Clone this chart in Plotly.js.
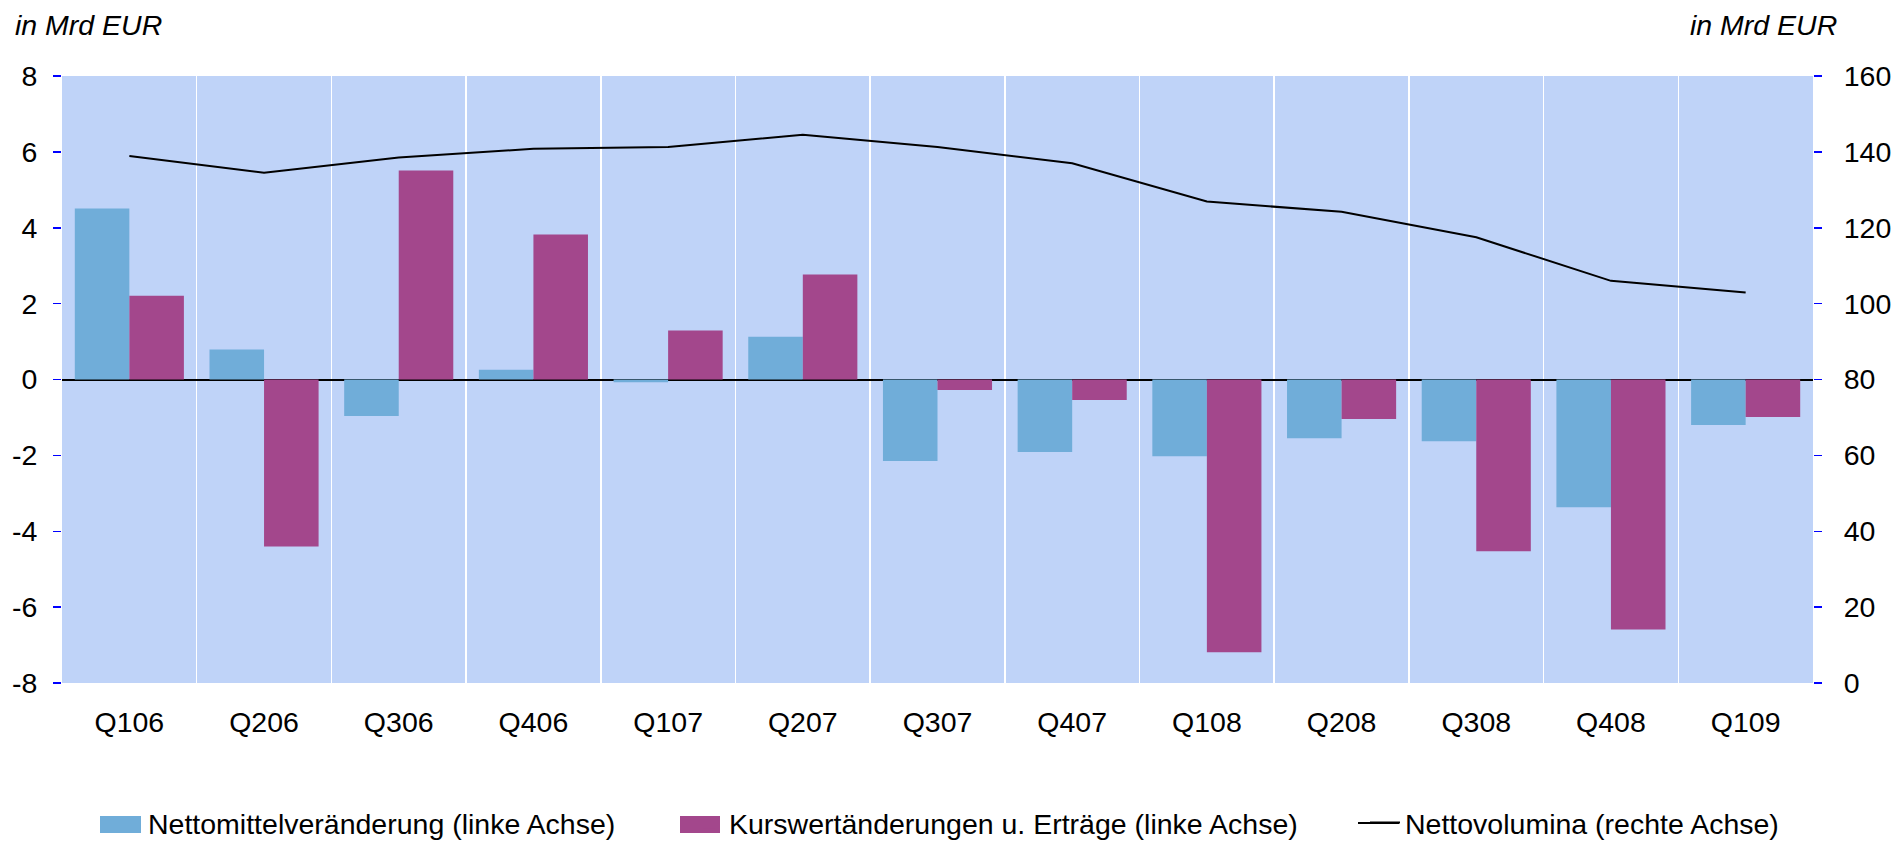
<!DOCTYPE html>
<html>
<head>
<meta charset="utf-8">
<script src="https://cdn.plot.ly/plotly-3.0.1.min.js"></script>
<style>html,body{margin:0;padding:0;background:#fff;}#chart{width:1892px;height:841px;}</style>
</head>
<body>
<div id="chart"></div>
<script>
const categories = ["Q106","Q206","Q306","Q406","Q107","Q207","Q307","Q407","Q108","Q208","Q308","Q408","Q109"];
const nettomittel = [4.51, 0.79, -0.96, 0.26, -0.07, 1.13, -2.15, -1.91, -2.02, -1.55, -1.63, -3.37, -1.20];
const kurswert = [2.21, -4.40, 5.51, 3.82, 1.29, 2.77, -0.28, -0.54, -7.19, -1.04, -4.53, -6.59, -0.99];
const nettovolumina = [138.9, 134.5, 138.5, 140.8, 141.3, 144.5, 141.3, 137.0, 126.9, 124.2, 117.5, 106.0, 102.9];
const leftTicks = [-8, -6, -4, -2, 0, 2, 4, 6, 8];
const rightTicks = [0, 20, 40, 60, 80, 100, 120, 140, 160];
const seriesNames = ["Nettomittelveränderung (linke Achse)", "Kurswertänderungen u. Erträge (linke Achse)", "Nettovolumina (rechte Achse)"];
const unitLabel = "in Mrd EUR";

const FONT = "Liberation Sans, Arial, sans-serif";
const FS = 28.5;
const COL_BLUE = "#70ADD9", COL_MAG = "#A3478C";
const L = 62, T = 76, W = 1751, H = 607, B = 683;
const px2x = p => (p - L) / W;
const py2y = p => (B - p) / H;

const traces = [
  {type: "bar", x: categories, y: nettomittel, name: seriesNames[0], marker: {color: COL_BLUE}, yaxis: "y", legend: "legend"},
  {type: "bar", x: categories, y: kurswert, name: seriesNames[1], marker: {color: COL_MAG}, yaxis: "y", legend: "legend2"},
  {type: "scatter", mode: "lines", x: categories, y: nettovolumina, name: seriesNames[2], line: {color: "#000000", width: 2}, yaxis: "y2", legend: "legend3"}
];

const LEG_Y = 823;
const legendBase = {orientation: "h", yanchor: "middle", y: py2y(LEG_Y), xanchor: "left", bgcolor: "rgba(0,0,0,0)", borderwidth: 0, font: {family: FONT, size: FS, color: "#000"}};
const legendShapes = [
  {type: "rect", xref: "paper", yref: "paper", x0: px2x(100), x1: px2x(141), y0: py2y(LEG_Y + 10), y1: py2y(LEG_Y - 7), fillcolor: COL_BLUE, line: {width: 0}},
  {type: "rect", xref: "paper", yref: "paper", x0: px2x(680), x1: px2x(720), y0: py2y(LEG_Y + 10), y1: py2y(LEG_Y - 7), fillcolor: COL_MAG, line: {width: 0}},
  {type: "line", xref: "paper", yref: "paper", x0: px2x(1358), x1: px2x(1399), y0: py2y(LEG_Y), y1: py2y(LEG_Y), line: {color: "#000", width: 2}}
];
const layout = {
  width: 1892, height: 841,
  margin: {l: L, r: 1892 - L - W, t: T, b: 841 - B, pad: 0, autoexpand: false},
  paper_bgcolor: "#ffffff",
  plot_bgcolor: "#BFD3F8",
  barmode: "group",
  bargap: 0.19,
  bargroupgap: 0,
  font: {family: FONT, size: FS, color: "#000"},
  showlegend: true,
  legend: Object.assign({}, legendBase, {x: px2x(148 - 40)}),
  legend2: Object.assign({}, legendBase, {x: px2x(729 - 40)}),
  legend3: Object.assign({}, legendBase, {x: px2x(1405 - 40)}),
  shapes: legendShapes,
  xaxis: {
    type: "category",
    tickson: "boundaries",
    showgrid: true, gridcolor: "#ffffff", gridwidth: 1.5,
    ticks: "", showline: false, zeroline: false,
    tickfont: {family: FONT, size: FS, color: "#000"},
    ticklabelstandoff: 19
  },
  yaxis: {
    range: [-8, 8], tickvals: leftTicks, ticktext: leftTicks.map(String),
    showgrid: false, zeroline: true, zerolinecolor: "#000000", zerolinewidth: 2,
    ticks: "outside", ticklen: 8, tickcolor: "#0000FF", tickwidth: 1.5,
    showline: false,
    tickfont: {family: FONT, size: FS, color: "#000"},
    ticklabelstandoff: 10
  },
  yaxis2: {
    range: [0, 160], tickvals: rightTicks, ticktext: rightTicks.map(String),
    overlaying: "y", side: "right", showgrid: false, zeroline: false,
    ticks: "outside", ticklen: 8, tickcolor: "#0000FF", tickwidth: 1.5,
    showline: false,
    tickfont: {family: FONT, size: FS, color: "#000"},
    ticklabelstandoff: 16
  },
  annotations: [
    {text: unitLabel, xref: "paper", yref: "paper", x: px2x(13), y: py2y(25), xanchor: "left", yanchor: "middle", showarrow: false, font: {family: FONT, size: FS, color: "#000", style: "italic"}},
    {text: unitLabel, xref: "paper", yref: "paper", x: px2x(1839), y: py2y(25), xanchor: "right", yanchor: "middle", showarrow: false, font: {family: FONT, size: FS, color: "#000", style: "italic"}}
  ]
};
Plotly.newPlot("chart", traces, layout, {displayModeBar: false, staticPlot: true});
</script>
</body>
</html>
